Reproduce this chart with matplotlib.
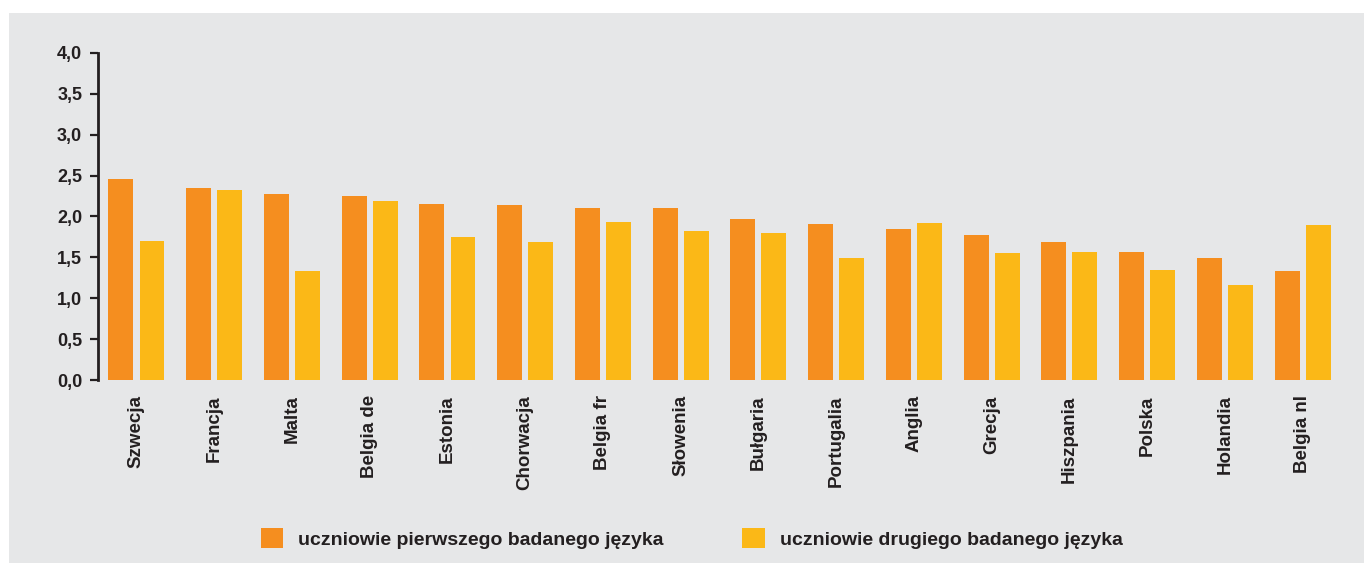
import numpy as np
import matplotlib.pyplot as plt
from matplotlib.patches import Rectangle

# dane
kraje = ['Szwecja', 'Francja', 'Malta', 'Belgia de', 'Estonia', 'Chorwacja',
         'Belgia fr', 'Słowenia', 'Bułgaria', 'Portugalia', 'Anglia', 'Grecja',
         'Hiszpania', 'Polska', 'Holandia', 'Belgia nl']
pierwszy = [2.46, 2.35, 2.28, 2.25, 2.15, 2.14, 2.10, 2.10, 1.97, 1.91,
            1.85, 1.77, 1.69, 1.57, 1.49, 1.33]
drugi = [1.70, 2.32, 1.33, 2.19, 1.75, 1.69, 1.93, 1.82, 1.80, 1.49,
         1.92, 1.55, 1.57, 1.35, 1.16, 1.90]
etykiety = ['uczniowie pierwszego badanego języka', 'uczniowie drugiego badanego języka']

pomarancz = '#F58E1F'
zolty = '#FBB817'
tlo = '#E6E7E8'
tekst = '#231F20'

plt.rcParams['font.family'] = ['Liberation Sans', 'DejaVu Sans']

fig = plt.figure(figsize=(13.64, 5.63), dpi=100)
fig.patches.append(Rectangle((9 / 1364, 0), 1, 1 - 13 / 563, transform=fig.transFigure,
                             facecolor=tlo, edgecolor='none', zorder=-10))

ax = fig.add_axes([0.0715, 0.325, 0.912, 0.581])
ax.set_facecolor('none')

x = np.arange(len(kraje))
w = 0.32
ax.bar(x - 0.2, pierwszy, w, color=pomarancz, label=etykiety[0])
ax.bar(x + 0.2, drugi, w, color=zolty, label=etykiety[1])

ax.set_xlim(-0.5, 15.5)
ax.set_ylim(0, 4)
ax.set_yticks(np.arange(0, 4.01, 0.5))
ax.set_yticklabels([f'{v:.1f}'.replace('.', ',') for v in np.arange(0, 4.01, 0.5)],
                   fontsize=13, fontweight='bold', color=tekst)
ax.set_xticks(x)
ax.set_xticklabels(kraje, rotation=90, fontsize=13.5, fontweight='bold', color=tekst)
ax.tick_params(axis='x', length=0, pad=11)
ax.tick_params(axis='y', length=6, width=1.6, color=tekst, pad=5)

for s in ['top', 'right', 'bottom']:
    ax.spines[s].set_visible(False)
ax.spines['left'].set_linewidth(2)
ax.spines['left'].set_color(tekst)

fig.legend(loc='center', bbox_to_anchor=(0.507, 0.0435), ncol=2, frameon=False,
           prop={'size': 14, 'weight': 'bold'}, handlelength=1.18, handleheight=1.18,
           handletextpad=0.77, columnspacing=4.0, labelcolor=tekst)

fig.savefig('out.png', dpi=100)
